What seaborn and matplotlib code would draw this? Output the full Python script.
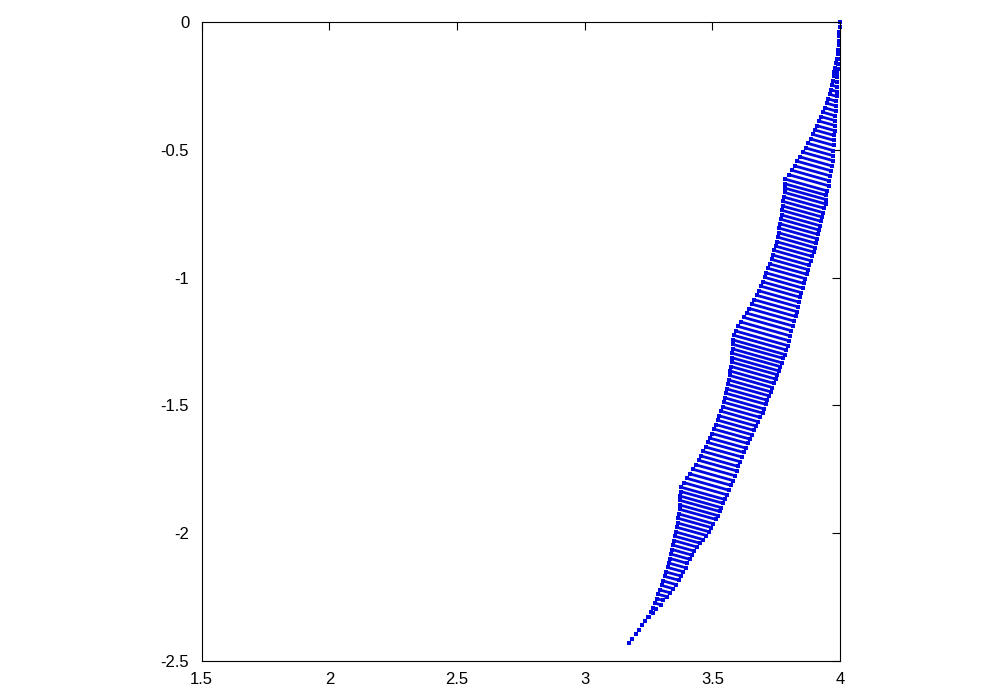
import numpy as np
import pandas as pd
import matplotlib
matplotlib.use('Agg')
import matplotlib.pyplot as plt
import seaborn as sns

# each streak (row) goes from a left point to a right point
y_left = [
    0.000, -0.021, -0.039, -0.056, -0.074, -0.091, -0.109, -0.126, -0.144, -0.161,
    -0.179, -0.196, -0.213, -0.231, -0.248, -0.266, -0.283, -0.301, -0.318, -0.336,
    -0.353, -0.371, -0.388, -0.406, -0.423, -0.440, -0.458, -0.475, -0.493, -0.510,
    -0.528, -0.545, -0.563, -0.580, -0.598, -0.615, -0.633, -0.650, -0.667, -0.685,
    -0.702, -0.720, -0.737, -0.755, -0.772, -0.790, -0.807, -0.825, -0.842, -0.860,
    -0.877, -0.894, -0.912, -0.929, -0.947, -0.964, -0.982, -0.999, -1.017, -1.034,
    -1.052, -1.069, -1.087, -1.104, -1.121, -1.139, -1.156, -1.174, -1.191, -1.209,
    -1.226, -1.244, -1.261, -1.279, -1.296, -1.314, -1.331, -1.348, -1.366, -1.383,
    -1.401, -1.418, -1.436, -1.453, -1.471, -1.488, -1.506, -1.523, -1.541, -1.558,
    -1.575, -1.593, -1.610, -1.628, -1.645, -1.663, -1.680, -1.698, -1.715, -1.733,
    -1.750, -1.768, -1.785, -1.802, -1.820, -1.837, -1.855, -1.872, -1.890, -1.907,
    -1.925, -1.942, -1.960, -1.977, -1.995, -2.012, -2.029, -2.047, -2.064, -2.082,
    -2.099, -2.117, -2.134, -2.152, -2.169, -2.187, -2.204, -2.222, -2.239, -2.256,
    -2.274, -2.291, -2.309, -2.326, -2.344, -2.361, -2.379, -2.396, -2.414, -2.431,
]
x_left = [
    4.000, 3.999, 3.998, 3.997, 3.996, 3.995, 3.994, 3.993, 3.990, 3.984,
    3.981, 3.978, 3.975, 3.973, 3.969, 3.965, 3.960, 3.954, 3.948, 3.941,
    3.933, 3.927, 3.919, 3.911, 3.903, 3.894, 3.886, 3.875, 3.866, 3.856,
    3.844, 3.833, 3.822, 3.811, 3.801, 3.786, 3.784, 3.784, 3.783, 3.780,
    3.777, 3.775, 3.773, 3.771, 3.769, 3.766, 3.763, 3.760, 3.757, 3.753,
    3.748, 3.743, 3.738, 3.732, 3.726, 3.719, 3.712, 3.705, 3.698, 3.691,
    3.683, 3.673, 3.665, 3.655, 3.645, 3.634, 3.624, 3.613, 3.601, 3.591,
    3.585, 3.581, 3.580, 3.579, 3.578, 3.578, 3.577, 3.574, 3.571, 3.568,
    3.565, 3.562, 3.558, 3.555, 3.551, 3.546, 3.540, 3.535, 3.528, 3.521,
    3.514, 3.507, 3.498, 3.490, 3.482, 3.474, 3.464, 3.456, 3.447, 3.437,
    3.424, 3.412, 3.399, 3.388, 3.377, 3.376, 3.375, 3.375, 3.374, 3.373,
    3.370, 3.367, 3.364, 3.361, 3.357, 3.354, 3.351, 3.347, 3.343, 3.339,
    3.335, 3.330, 3.325, 3.320, 3.314, 3.308, 3.301, 3.294, 3.288, 3.282,
    3.277, 3.266, 3.259, 3.247, 3.236, 3.226, 3.211, 3.202, 3.186, 3.172,
]
x_right = [
    4.000, 3.999, 3.998, 3.997, 3.996, 3.995, 3.994, 3.995, 3.995, 3.992,
    3.991, 3.990, 3.990, 3.990, 3.988, 3.988, 3.987, 3.985, 3.984, 3.983,
    3.981, 3.982, 3.980, 3.979, 3.978, 3.976, 3.976, 3.973, 3.973, 3.971,
    3.968, 3.965, 3.962, 3.957, 3.956, 3.950, 3.947, 3.946, 3.944, 3.939,
    3.934, 3.930, 3.926, 3.922, 3.918, 3.914, 3.910, 3.906, 3.902, 3.897,
    3.891, 3.885, 3.880, 3.875, 3.870, 3.864, 3.859, 3.854, 3.849, 3.844,
    3.840, 3.834, 3.831, 3.826, 3.820, 3.815, 3.810, 3.805, 3.800, 3.795,
    3.789, 3.784, 3.778, 3.771, 3.765, 3.760, 3.754, 3.748, 3.742, 3.735,
    3.729, 3.723, 3.716, 3.710, 3.703, 3.697, 3.688, 3.680, 3.672, 3.664,
    3.656, 3.648, 3.639, 3.631, 3.623, 3.616, 3.608, 3.602, 3.595, 3.589,
    3.581, 3.574, 3.566, 3.558, 3.549, 3.542, 3.535, 3.529, 3.521, 3.514,
    3.504, 3.496, 3.486, 3.477, 3.464, 3.452, 3.440, 3.430, 3.421, 3.412,
    3.402, 3.395, 3.387, 3.379, 3.369, 3.358, 3.346, 3.334, 3.321, 3.308,
    3.298, 3.281, 3.267, 3.251, 3.238, 3.226, 3.211, 3.202, 3.186, 3.172,
]
y_right = [
    0.000, -0.021, -0.039, -0.056, -0.074, -0.091, -0.109, -0.127, -0.145, -0.163,
    -0.182, -0.199, -0.217, -0.236, -0.253, -0.272, -0.291, -0.310, -0.328, -0.348,
    -0.367, -0.386, -0.405, -0.425, -0.444, -0.463, -0.483, -0.503, -0.523, -0.542,
    -0.563, -0.582, -0.602, -0.621, -0.641, -0.661, -0.678, -0.695, -0.712, -0.729,
    -0.746, -0.763, -0.780, -0.797, -0.814, -0.831, -0.848, -0.866, -0.883, -0.900,
    -0.917, -0.934, -0.952, -0.969, -0.987, -1.004, -1.023, -1.041, -1.059, -1.077,
    -1.096, -1.114, -1.133, -1.152, -1.170, -1.189, -1.208, -1.228, -1.247, -1.266,
    -1.283, -1.301, -1.316, -1.333, -1.348, -1.365, -1.380, -1.397, -1.414, -1.430,
    -1.447, -1.463, -1.480, -1.496, -1.514, -1.530, -1.547, -1.564, -1.581, -1.598,
    -1.615, -1.632, -1.649, -1.667, -1.684, -1.702, -1.720, -1.739, -1.756, -1.775,
    -1.794, -1.813, -1.832, -1.850, -1.868, -1.883, -1.900, -1.915, -1.931, -1.946,
    -1.963, -1.978, -1.994, -2.009, -2.025, -2.039, -2.054, -2.070, -2.086, -2.102,
    -2.118, -2.135, -2.151, -2.168, -2.184, -2.201, -2.217, -2.233, -2.248, -2.263,
    -2.280, -2.295, -2.311, -2.327, -2.344, -2.361, -2.379, -2.396, -2.414, -2.431,
]

x_ticks = [1.5, 2.0, 2.5, 3.0, 3.5, 4.0]
x_tick_labels = ['1.5', '2', '2.5', '3', '3.5', '4']
y_ticks = [0.0, -0.5, -1.0, -1.5, -2.0, -2.5]
y_tick_labels = ['0', '-0.5', '-1', '-1.5', '-2', '-2.5']

# long table: two points per row
n = len(y_left)
df = pd.DataFrame({
    'row': list(range(n)) * 2,
    'x': x_left + x_right,
    'y': y_left + y_right,
})

sns.set_style('white')
plt.rcParams['font.family'] = ['Liberation Sans', 'DejaVu Sans']
plt.rcParams['axes.unicode_minus'] = False

fig = plt.figure(figsize=(10, 7), dpi=100)
ax = fig.add_axes([0.2017, 0.0557, 0.6383, 0.9129])

blue = '#0008e0'
sns.lineplot(data=df, x='x', y='y', units='row', estimator=None, sort=False,
             color=blue, lw=2.0, ax=ax, clip_on=False)
sns.scatterplot(data=df, x='x', y='y', color=blue, s=6, marker='s',
                linewidth=0, ax=ax, clip_on=False)

ax.set_xlim(1.5, 4.0)
ax.set_ylim(-2.5, 0.0)
ax.set_xticks(x_ticks)
ax.set_xticklabels(x_tick_labels)
ax.set_yticks(y_ticks)
ax.set_yticklabels(y_tick_labels)
ax.set_xlabel('')
ax.set_ylabel('')
ax.tick_params(direction='in', length=5.5, width=0.8, color='black',
               top=True, right=True, labelsize=12, labelcolor='black')
ax.tick_params(axis='x', pad=8)
ax.tick_params(axis='y', pad=9)
for s in ax.spines.values():
    s.set_color('black')
    s.set_linewidth(0.8)
ax.grid(False)

fig.savefig('out.png', dpi=100)
